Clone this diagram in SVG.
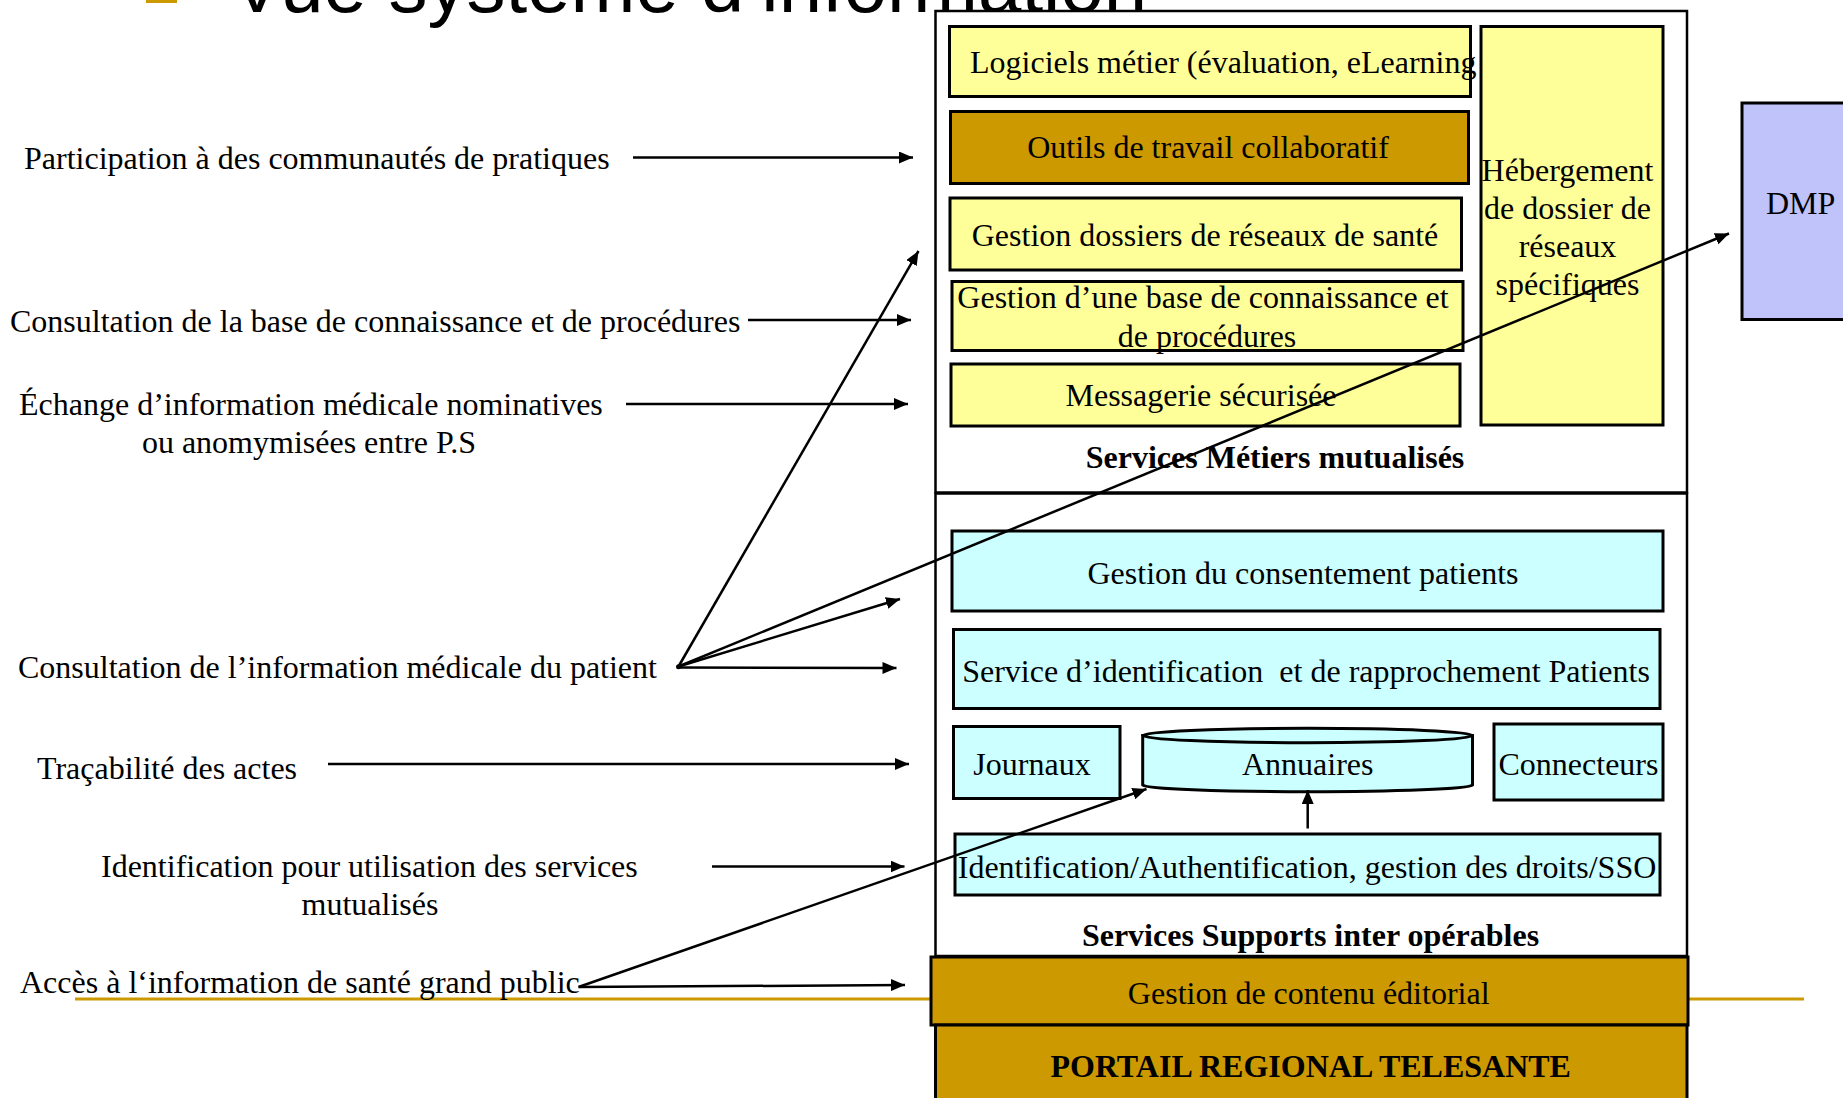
<svg xmlns="http://www.w3.org/2000/svg" width="1843" height="1098" viewBox="0 0 1843 1098">
<style>
.t{font-family:"Liberation Serif","Times New Roman",serif;font-size:32px;fill:#000}
.b{font-weight:bold}
.m{text-anchor:middle}
.box{stroke:#000;stroke-width:3}
.outer{fill:#fff;stroke:#000;stroke-width:2.5}
.y{fill:#FFFF99}
.g{fill:#CC9900}
.c{fill:#CCFFFF}
.conn{stroke:#000;stroke-width:2.5;fill:none}
.title{font-family:"Liberation Sans",Arial,sans-serif;font-size:78px;fill:#000}
</style>
<defs>
<marker id="ah" markerUnits="userSpaceOnUse" markerWidth="14" markerHeight="12" refX="14" refY="6" orient="auto">
<path d="M0,0 L14,6 L0,12 Z" fill="#000"/>
</marker>
</defs>
<rect x="0" y="0" width="1843" height="1098" fill="#fff"/>
<g id="title">
<rect x="146" y="-27" width="31" height="30" fill="#CC9900"/>
<text class="title" x="231" y="12">Vue système d’information</text>
</g>
<line id="rule" x1="75" y1="999" x2="1804" y2="999" stroke="#CC9900" stroke-width="3"/>
<g id="labels">
<text class="t" x="24" y="169">Participation à des communautés de pratiques</text>
<text class="t" x="10" y="332">Consultation de la base de connaissance et de procédures</text>
<text class="t" x="19" y="415">Échange d’information médicale nominatives</text>
<text class="t m" x="309" y="453">ou anomymisées entre P.S</text>
<text class="t" x="18" y="678">Consultation de l’information médicale du patient</text>
<text class="t" x="37" y="779">Traçabilité des actes</text>
<text class="t" x="101" y="877">Identification pour utilisation des services</text>
<text class="t m" x="370" y="915">mutualisés</text>
<text class="t" x="20" y="993">Accès à l‘information de santé grand public</text>
</g>
<g id="services-metiers">
<rect class="outer" x="935.5" y="11" width="751.5" height="481.5"/>
<text class="t b m" x="1275" y="468">Services Métiers mutualisés</text>
</g>
<g id="logiciels">
<rect class="box y" x="949.5" y="26.5" width="521" height="70"/>
<text class="t" x="970" y="73">Logiciels métier (évaluation, eLearning</text>
</g>
<g id="outils">
<rect class="box g" x="950.5" y="111.5" width="518" height="72"/>
<text class="t m" x="1208" y="158">Outils de travail collaboratif</text>
</g>
<g id="dossiers">
<rect class="box y" x="950" y="198" width="511.5" height="72"/>
<text class="t m" x="1205" y="246">Gestion dossiers de réseaux de santé</text>
</g>
<g id="base">
<rect class="box y" x="952" y="281.5" width="511" height="69"/>
<text class="t m" x="1203" y="308">Gestion d’une base de connaissance et</text>
<text class="t m" x="1207" y="347">de procédures</text>
</g>
<g id="messagerie">
<rect class="box y" x="951" y="364" width="509" height="62"/>
<text class="t m" x="1201" y="406">Messagerie sécurisée</text>
</g>
<g id="hebergement">
<rect class="box y" x="1481" y="26.5" width="182" height="398.5"/>
<text class="t m" x="1567.5" y="181">Hébergement</text>
<text class="t m" x="1567.5" y="219">de dossier de</text>
<text class="t m" x="1567.5" y="257">réseaux</text>
<text class="t m" x="1567.5" y="295">spécifiques</text>
</g>
<g id="dmp">
<rect class="box" x="1742" y="103" width="120" height="216.5" fill="#C0C2FA"/>
<text class="t" x="1766" y="214">DMP</text>
</g>
<g id="services-supports">
<rect class="outer" x="935.5" y="493.5" width="751.5" height="462.5"/>
<text class="t b m" x="1310.5" y="946">Services Supports inter opérables</text>
</g>
<g id="consentement">
<rect class="box c" x="952" y="531" width="711" height="80"/>
<text class="t m" x="1303" y="584">Gestion du consentement patients</text>
</g>
<g id="identification-patients">
<rect class="box c" x="953.5" y="629.5" width="706.5" height="79"/>
<text class="t m" x="1306" y="682" xml:space="preserve">Service d’identification  et de rapprochement Patients</text>
</g>
<g id="journaux">
<rect class="box c" x="953.5" y="726.5" width="166.5" height="72"/>
<text class="t m" x="1032" y="775">Journaux</text>
</g>
<g id="annuaires">
<path class="box c" d="M1142.7,735.5 L1142.7,785 A165,7 0 0 0 1472.5,785 L1472.5,735.5 Z"/>
<ellipse class="box c" cx="1307.6" cy="735.5" rx="164.9" ry="7.2"/>
<text class="t m" x="1307.7" y="775">Annuaires</text>
</g>
<g id="connecteurs">
<rect class="box c" x="1494" y="724" width="169" height="76"/>
<text class="t m" x="1578.5" y="775">Connecteurs</text>
</g>
<g id="authentification">
<rect class="box c" x="955" y="834" width="705" height="61"/>
<text class="t m" x="1307" y="878">Identification/Authentification, gestion des droits/SSO</text>
</g>
<g id="contenu">
<rect class="box g" x="931" y="957" width="757" height="68"/>
<text class="t m" x="1308.7" y="1003.5">Gestion de contenu éditorial</text>
</g>
<g id="portail">
<rect class="box g" x="935.5" y="1025" width="751.5" height="100" stroke-width="2.5"/>
<text class="t b m" x="1310.7" y="1077">PORTAIL REGIONAL TELESANTE</text>
</g>
<g id="connectors">
<line class="conn" x1="633" y1="157.5" x2="913" y2="157.5" marker-end="url(#ah)"/>
<line class="conn" x1="748" y1="320" x2="911" y2="320" marker-end="url(#ah)"/>
<line class="conn" x1="626" y1="404" x2="908" y2="404" marker-end="url(#ah)"/>
<line class="conn" x1="678.5" y1="666.5" x2="918.5" y2="251" marker-end="url(#ah)"/>
<line class="conn" x1="678.5" y1="666.5" x2="1729" y2="233.5" marker-end="url(#ah)"/>
<line class="conn" x1="678.5" y1="666.5" x2="900" y2="599" marker-end="url(#ah)"/>
<line class="conn" x1="678.5" y1="667.5" x2="896.5" y2="668" marker-end="url(#ah)"/>
<circle cx="678.5" cy="666.8" r="2.5" fill="#000"/>
<line class="conn" x1="328" y1="764" x2="909" y2="764" marker-end="url(#ah)"/>
<line class="conn" x1="712" y1="866.5" x2="904.5" y2="866.5" marker-end="url(#ah)"/>
<line class="conn" x1="578.5" y1="987" x2="905" y2="985" marker-end="url(#ah)"/>
<line class="conn" x1="578.5" y1="987" x2="1146.5" y2="789" marker-end="url(#ah)"/>
<line class="conn" x1="1307.7" y1="828.5" x2="1307.7" y2="790" marker-end="url(#ah)"/>
</g>
</svg>
